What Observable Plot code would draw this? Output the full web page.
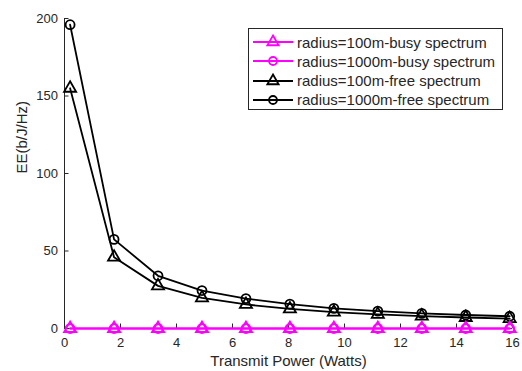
<!DOCTYPE html>
<html>
<head>
<meta charset="utf-8">
<script src="https://cdn.jsdelivr.net/npm/d3@7"></script>
<script src="https://cdn.jsdelivr.net/npm/@observablehq/plot@0.6"></script>
<style>
  html, body { margin: 0; padding: 0; background: #fff; }
  #wrap { position: relative; width: 522px; height: 371px; font-family: "Liberation Sans", Arial, sans-serif; color: #262626; }
  #legend { position: absolute; left: 248px; top: 28px; width: 253px; height: 80px; border: 1px solid #262626; background: #fff; }
  .row { position: absolute; left: 0; height: 20px; display: flex; align-items: center; font-size: 15px; white-space: nowrap; }
  .row svg { margin-left: 4px; margin-right: 4px; }
</style>
</head>
<body>
<div id="wrap"></div>
<script>
const power = [0.2, 1.77, 3.34, 4.91, 6.48, 8.05, 9.62, 11.19, 12.76, 14.33, 15.9];
const busy100 = [0, 0, 0, 0, 0, 0, 0, 0, 0, 0, 0];
const busy1000 = [0, 0, 0, 0, 0, 0, 0, 0, 0, 0, 0];
const free100 = [155, 46, 27.5, 19.8, 15.5, 12.6, 10.5, 9.1, 8.0, 7.1, 6.4];
const free1000 = [196, 57.5, 34, 24.5, 19.3, 15.7, 13, 11.2, 9.8, 8.7, 7.9];
const xTicks = [0, 2, 4, 6, 8, 10, 12, 14, 16];
const yTicks = [0, 50, 100, 150, 200];
const xTitle = "Transmit Power (Watts)";
const yTitle = "EE(b/J/Hz)";

const seriesDefs = [
  {name: "radius=100m-busy spectrum", values: busy100, color: "#FF00FF", symbol: "triangle"},
  {name: "radius=1000m-busy spectrum", values: busy1000, color: "#FF00FF", symbol: "circle"},
  {name: "radius=100m-free spectrum", values: free100, color: "#000000", symbol: "triangle"},
  {name: "radius=1000m-free spectrum", values: free1000, color: "#000000", symbol: "circle"}
];
const rows = seriesDefs.flatMap(s => power.map((p, i) => ({series: s.name, x: p, y: s.values[i]})));

const marks = [
  Plot.ruleX([0], {stroke: "#262626", strokeWidth: 1}),
  Plot.ruleY([0], {stroke: "#262626", strokeWidth: 1}),
  Plot.axisX({ticks: xTicks, tickSize: -4.5, tickPadding: 14, fontSize: 13, color: "#262626", label: null}),
  Plot.axisY({ticks: yTicks, tickSize: -4.5, tickPadding: 11, fontSize: 13, color: "#262626", label: null}),
  Plot.text([xTitle], {frameAnchor: "bottom", dy: 37, fontSize: 15, fill: "#262626"}),
  Plot.text([yTitle], {frameAnchor: "left", dx: -42, rotate: -90, fontSize: 15, fill: "#262626"})
];
// draw free first, busy on top
for (const s of [seriesDefs[2], seriesDefs[3], seriesDefs[0], seriesDefs[1]]) {
  const d = rows.filter(r => r.series === s.name);
  marks.push(Plot.line(d, {x: "x", y: "y", stroke: s.color, strokeWidth: 1.8}));
  marks.push(Plot.dot(d, {x: "x", y: "y", stroke: s.color, fill: "none", symbol: s.symbol, r: 4.5, strokeWidth: 1.8}));
}

const chart = Plot.plot({
  width: 522,
  height: 371,
  marginLeft: 64,
  marginRight: 10,
  marginTop: 18,
  marginBottom: 43,
  style: {fontFamily: "'Liberation Sans', Arial, sans-serif", fontSize: "13px", color: "#262626", background: "#fff"},
  x: {domain: [0, 16]},
  y: {domain: [0, 200]},
  marks
});
const wrap = document.getElementById("wrap");
wrap.appendChild(chart);

// legend
const legend = document.createElement("div");
legend.id = "legend";
seriesDefs.forEach((s, i) => {
  const row = document.createElement("div");
  row.className = "row";
  row.style.top = (3 + i * 19.3) + "px";
  const ns = "http://www.w3.org/2000/svg";
  const sw = document.createElementNS(ns, "svg");
  sw.setAttribute("width", 40); sw.setAttribute("height", 20);
  const ln = document.createElementNS(ns, "line");
  ln.setAttribute("x1", 0); ln.setAttribute("x2", 40); ln.setAttribute("y1", 10); ln.setAttribute("y2", 10);
  ln.setAttribute("stroke", s.color); ln.setAttribute("stroke-width", 1.8);
  sw.appendChild(ln);
  const sym = document.createElementNS(ns, "path");
  sym.setAttribute("d", d3.symbol(s.symbol === "circle" ? d3.symbolCircle : d3.symbolTriangle, s.symbol === "circle" ? 50 : 55)());
  sym.setAttribute("transform", "translate(20,10)");
  sym.setAttribute("fill", "none"); sym.setAttribute("stroke", s.color); sym.setAttribute("stroke-width", 1.8);
  sw.appendChild(sym);
  row.appendChild(sw);
  const t = document.createElement("span");
  t.textContent = s.name;
  row.appendChild(t);
  legend.appendChild(row);
});
wrap.appendChild(legend);
</script>
</body>
</html>
